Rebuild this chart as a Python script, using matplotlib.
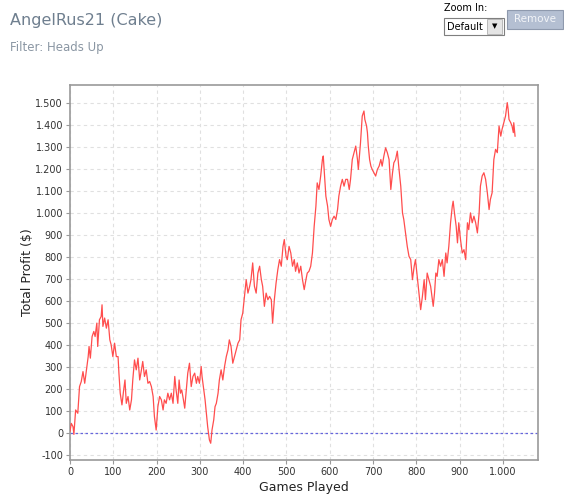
import matplotlib
matplotlib.use("Agg")
import matplotlib.pyplot as plt
from matplotlib.patches import Rectangle
from matplotlib.ticker import FuncFormatter

# ---------------- DATA ----------------
title = "AngelRus21 (Cake)"
subtitle = "Filter: Heads Up"
x_label = "Games Played"
y_label = "Total Profit ($)"

games = [0, 3, 7, 9, 13, 18, 22, 26, 30, 34, 38, 42, 44, 47, 51, 55, 58, 62, 64,
         68, 72, 74, 76, 80, 84, 88, 92, 95, 99, 103, 107, 111, 113, 116, 120,
         124, 127, 130, 134, 138, 142, 145, 149, 153, 157, 161, 165, 168, 172,
         176, 180, 184, 188, 192, 195, 199, 203, 207, 211, 215, 218, 222, 226,
         230, 234, 238, 242, 245, 249, 252, 255, 258, 262, 265, 268, 272, 276,
         280, 284, 288, 292, 295, 299, 303, 305, 308, 312, 315, 318, 322, 325,
         328, 332, 335, 338, 342, 345, 349, 353, 357, 361, 365, 368, 372, 376,
         380, 384, 388, 392, 395, 399, 403, 407, 411, 415, 418, 422, 426, 430,
         434, 438, 442, 445, 449, 453, 457, 461, 465, 468, 472, 476, 480, 484,
         488, 492, 495, 499, 502, 506, 510, 514, 518, 521, 525, 529, 533, 537,
         541, 545, 548, 552, 556, 560, 564, 568, 571, 575, 579, 583, 585, 588,
         591, 595, 598, 602, 606, 610, 614, 618, 621, 625, 629, 633, 637, 641,
         645, 648, 652, 656, 660, 664, 666, 669, 671, 675, 679, 681, 685, 687,
         689, 692, 695, 698, 702, 706, 710, 714, 718, 721, 725, 729, 733, 737,
         741, 745, 748, 752, 756, 760, 764, 768, 771, 775, 779, 783, 787, 791,
         795, 798, 802, 806, 810, 814, 818, 821, 825, 829, 833, 837, 839, 842,
         845, 848, 852, 856, 860, 864, 868, 871, 875, 879, 883, 885, 888, 892,
         895, 898, 902, 906, 910, 914, 918, 921, 925, 929, 933, 937, 941, 945,
         948, 952, 956, 960, 964, 968, 971, 975, 979, 983, 987, 991, 995, 998,
         1002, 1006, 1010, 1012, 1014, 1018, 1021, 1024, 1025, 1028]

profit = [10, 45, 30, -5, 106, 91, 212, 235, 280, 227, 288, 348, 394, 341, 439,
          462, 439, 500, 394, 515, 530, 583, 485, 523, 477, 515, 424, 402, 348,
          409, 348, 348, 273, 182, 129, 197, 242, 136, 167, 106, 152, 242, 333,
          288, 341, 242, 288, 326, 258, 288, 227, 235, 212, 167, 76, 15, 121,
          167, 152, 106, 152, 136, 182, 152, 182, 136, 258, 197, 136, 242, 182,
          197, 152, 114, 182, 273, 318, 212, 258, 273, 227, 258, 227, 303, 258,
          212, 152, 91, 30, -30, -45, 15, 61, 121, 136, 182, 242, 288, 242, 303,
          348, 379, 424, 394, 318, 348, 379, 409, 424, 515, 545, 621, 697, 636,
          667, 697, 773, 667, 636, 727, 758, 697, 667, 576, 636, 606, 621, 606,
          500, 606, 682, 742, 788, 758, 848, 879, 803, 788, 848, 818, 758, 788,
          735, 773, 727, 758, 697, 652, 697, 727, 735, 758, 818, 939, 1030, 1136,
          1106, 1167, 1242, 1258, 1167, 1076, 1030, 970, 939, 970, 985, 970, 1015,
          1076, 1121, 1152, 1121, 1152, 1152, 1106, 1152, 1242, 1273, 1303, 1242,
          1197, 1273, 1318, 1439, 1462, 1424, 1394, 1364, 1303, 1242, 1212, 1197,
          1182, 1167, 1197, 1212, 1242, 1212, 1258, 1295, 1273, 1242, 1106, 1182,
          1227, 1242, 1280, 1197, 1121, 1000, 970, 909, 848, 803, 788, 697, 758,
          788, 712, 636, 561, 621, 697, 606, 727, 697, 667, 606, 576, 636, 727,
          712, 788, 758, 788, 712, 818, 773, 848, 955, 1030, 1053, 1000, 939, 864,
          955, 879, 818, 833, 788, 955, 924, 1000, 955, 985, 955, 909, 1000, 1121,
          1167, 1182, 1152, 1091, 1015, 1061, 1091, 1242, 1288, 1273, 1394, 1348,
          1379, 1409, 1439, 1500, 1470, 1424, 1409, 1394, 1364, 1409, 1348]

x_ticks = [0, 100, 200, 300, 400, 500, 600, 700, 800, 900, 1000]
y_ticks = [-100, 0, 100, 200, 300, 400, 500, 600, 700, 800, 900, 1000,
           1100, 1200, 1300, 1400, 1500]


def dot_thousands(v, pos):
    # the chart uses "." as the thousands separator (1.500)
    return f"{int(v):,}".replace(",", ".")


# ---------------- FIGURE ----------------
fig = plt.figure(figsize=(5.64, 4.97), dpi=100)
fig.patch.set_facecolor("white")

ax = fig.add_axes([70 / 564, 37 / 497, 468 / 564, 375 / 497])
ax.plot(games, profit, color="#ff4d4d", linewidth=0.9, zorder=3)
ax.axhline(0, color="#6666dd", linewidth=0.9, linestyle=(0, (2, 2)), zorder=2)

ax.set_xlim(0, 1081)
ax.set_ylim(-121, 1580)
ax.set_xticks(x_ticks)
ax.set_yticks(y_ticks)
ax.xaxis.set_major_formatter(FuncFormatter(dot_thousands))
ax.yaxis.set_major_formatter(FuncFormatter(dot_thousands))
ax.grid(True, color="#e0e0e0", linestyle=(0, (3, 3)), linewidth=0.8)
ax.set_axisbelow(True)

for side in ["left", "bottom", "top", "right"]:
    ax.spines[side].set_color("#9a9a9a")
    ax.spines[side].set_linewidth(1.2)

ax.tick_params(axis="both", direction="out", length=3, width=0.8,
               color="#9a9a9a", labelsize=7, labelcolor="#333333", pad=2)
ax.set_xlabel(x_label, fontsize=9, color="#222222", labelpad=3)
ax.set_ylabel(y_label, fontsize=9, color="#222222", labelpad=1)

# ---------------- HEADER / WIDGETS ----------------
fig.text(10 / 564, 1 - 20 / 497, title, fontsize=11.5, color="#6f7f8f",
         va="center", ha="left")
fig.text(10 / 564, 1 - 47 / 497, subtitle, fontsize=8.5, color="#8a96a3",
         va="center", ha="left")
fig.text(444 / 564, 1 - 8 / 497, "Zoom In:", fontsize=7, color="#000000",
         va="center", ha="left")

# dropdown box
fig.patches.append(Rectangle((444 / 564, 1 - 35 / 497), 60 / 564, 17 / 497,
                             transform=fig.transFigure, facecolor="white",
                             edgecolor="#7f7f7f", linewidth=0.8))
fig.patches.append(Rectangle((487 / 564, 1 - 34 / 497), 15 / 564, 15 / 497,
                             transform=fig.transFigure, facecolor="#e4e4e4",
                             edgecolor="#b0b0b0", linewidth=0.6))
fig.text(447 / 564, 1 - 26.5 / 497, "Default", fontsize=7, color="#000000",
         va="center", ha="left")
fig.text(494.5 / 564, 1 - 26.5 / 497, "\u25bc", fontsize=5, color="#000000",
         va="center", ha="center")

# remove button
fig.patches.append(Rectangle((507 / 564, 1 - 29 / 497), 56 / 564, 19 / 497,
                             transform=fig.transFigure, facecolor="#b4bfd2",
                             edgecolor="#8e99ad", linewidth=0.8))
fig.text(535 / 564, 1 - 19.5 / 497, "Remove", fontsize=7.5, color="#f2f4f8",
         va="center", ha="center")

fig.savefig("out.png", dpi=100)
